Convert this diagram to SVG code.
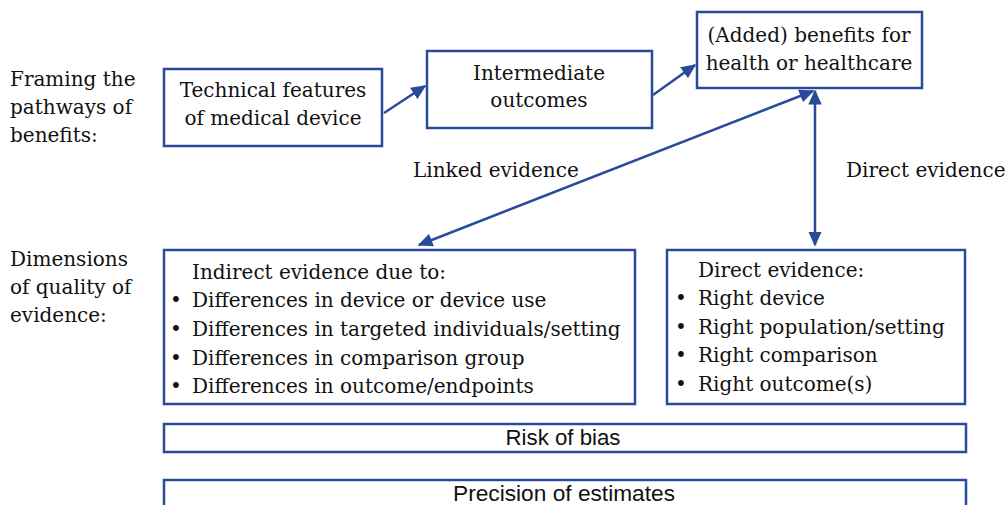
<svg xmlns="http://www.w3.org/2000/svg" width="1005" height="505" viewBox="0 0 1005 505">
<defs>
<style>
.box{fill:#fff;stroke:#2a4b9b;stroke-width:2.5}
.t{font-family:"DejaVu Serif","Liberation Serif",serif;font-size:20px;fill:#111}
.c{text-anchor:middle}
.s{font-family:"Liberation Sans Narrow","Liberation Sans",sans-serif;font-size:22px;fill:#111;text-anchor:middle}
.con{stroke:#2a4b9b;stroke-width:2.5;fill:none}
</style>
<marker id="ah" viewBox="0 0 10 10" refX="9" refY="5" markerWidth="6" markerHeight="6" orient="auto-start-reverse" markerUnits="strokeWidth">
<path d="M0,0.5 L10,5 L0,9.5 z" fill="#2a4b9b"/>
</marker>
</defs>
<rect width="1005" height="505" fill="#fff"/>
<g id="labels">
<text class="t" x="10" y="86">Framing the</text>
<text class="t" x="10" y="114">pathways of</text>
<text class="t" x="10" y="142">benefits:</text>
<text class="t" x="10" y="266">Dimensions</text>
<text class="t" x="10" y="294">of quality of</text>
<text class="t" x="10" y="322">evidence:</text>
<text class="t" x="413" y="177">Linked evidence</text>
<text class="t" x="846" y="177">Direct evidence</text>
</g>
<g id="connectors">
<line class="con" x1="384" y1="113" x2="425" y2="86" marker-end="url(#ah)"/>
<line class="con" x1="653" y1="95" x2="695" y2="65" marker-end="url(#ah)"/>
<line class="con" x1="419" y1="245" x2="813" y2="91" marker-start="url(#ah)" marker-end="url(#ah)"/>
<line class="con" x1="815" y1="91" x2="815" y2="245" marker-start="url(#ah)" marker-end="url(#ah)"/>
</g>
<g id="technical">
<rect class="box" x="164" y="69" width="218" height="77"/>
<text class="t c" x="273" y="97">Technical features</text>
<text class="t c" x="273" y="125">of medical device</text>
</g>
<g id="intermediate">
<rect class="box" x="427" y="51" width="225" height="77"/>
<text class="t c" x="539" y="80">Intermediate</text>
<text class="t c" x="539" y="107">outcomes</text>
</g>
<g id="benefits">
<rect class="box" x="697" y="12" width="225" height="76"/>
<text class="t c" x="809" y="42">(Added) benefits for</text>
<text class="t c" x="809" y="70">health or healthcare</text>
</g>
<g id="indirect">
<rect class="box" x="164" y="250" width="471" height="154"/>
<text class="t" x="192" y="279">Indirect evidence due to:</text>
<text class="t" x="170" y="307">•</text><text class="t" x="192" y="307">Differences in device or device use</text>
<text class="t" x="170" y="336">•</text><text class="t" x="192" y="336">Differences in targeted individuals/setting</text>
<text class="t" x="170" y="365">•</text><text class="t" x="192" y="365">Differences in comparison group</text>
<text class="t" x="170" y="393">•</text><text class="t" x="192" y="393">Differences in outcome/endpoints</text>
</g>
<g id="direct">
<rect class="box" x="667" y="250" width="298" height="154"/>
<text class="t" x="698" y="277">Direct evidence:</text>
<text class="t" x="675" y="305">•</text><text class="t" x="698" y="305">Right device</text>
<text class="t" x="675" y="334">•</text><text class="t" x="698" y="334">Right population/setting</text>
<text class="t" x="675" y="362">•</text><text class="t" x="698" y="362">Right comparison</text>
<text class="t" x="675" y="391">•</text><text class="t" x="698" y="391">Right outcome(s)</text>
</g>
<g id="bias">
<rect class="box" x="164" y="424" width="802" height="28"/>
<text class="s" x="563" y="445" textLength="115" lengthAdjust="spacingAndGlyphs">Risk of bias</text>
</g>
<g id="precision">
<rect class="box" x="164" y="480" width="802" height="40"/>
<text class="s" x="564" y="501" textLength="222" lengthAdjust="spacingAndGlyphs">Precision of estimates</text>
</g>
</svg>
